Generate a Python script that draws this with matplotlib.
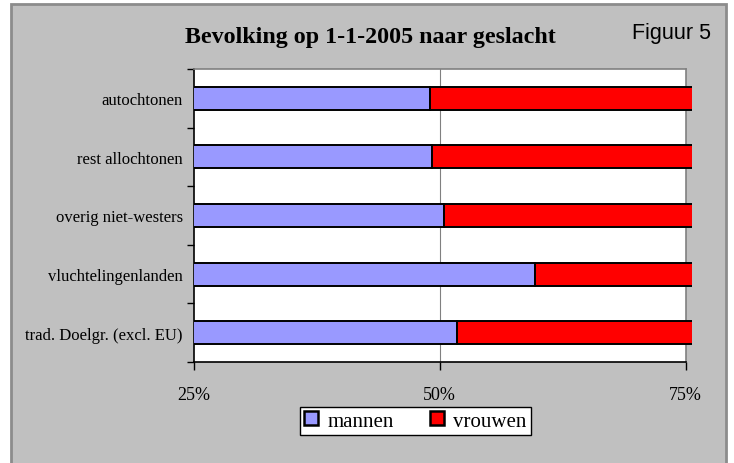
import matplotlib
matplotlib.use("Agg")
import matplotlib.pyplot as plt
from matplotlib.patches import Rectangle, Patch

categories = ["autochtonen", "rest allochtonen", "overig niet-westers",
              "vluchtelingenlanden", "trad. Doelgr. (excl. EU)"]
mannen = [49.0, 49.2, 50.4, 59.7, 51.8]
vrouwen = [100 - m for m in mannen]
xticks = [25, 50, 75]
xticklabels = ["25%", "50%", "75%"]

W, H = 734, 464
fig = plt.figure(figsize=(W / 100, H / 100), dpi=100)
fig.patch.set_facecolor("white")

# outer chart area
fig.patches.append(Rectangle((11 / W, -0.01), (726 - 11) / W, (H - 5) / H + 0.01,
                             transform=fig.transFigure, facecolor="#C0C0C0",
                             edgecolor="#8C8C8C", linewidth=2, zorder=-5))

ax = fig.add_axes([194 / W, 1 - 363 / H, (685.5 - 194) / W, (363 - 70) / H])
ax.set_zorder(2)
ax.set_facecolor("white")

serif = "Liberation Serif"
n = len(categories)
ys = list(range(n))
bh = 0.39
ax.barh(ys, mannen, height=bh, left=0, color="#9999FF", edgecolor="black",
        linewidth=1.4, zorder=3)
bars_v = ax.barh(ys, vrouwen, height=bh, left=mannen, color="#FF0000",
                 edgecolor="black", linewidth=1.4, zorder=3)
clip = Rectangle((0, 0), 1 + 6.2 / 491.5, 1, transform=ax.transAxes,
                 facecolor="none", edgecolor="none")
for b in bars_v:
    b.set_clip_path(clip)

ax.set_xlim(25, 75)
ax.set_ylim(n - 0.5, -0.5)
ax.axvline(50, color="#808080", linewidth=0.8, zorder=1)

ax.set_xticks(xticks)
ax.set_xticklabels(xticklabels, fontfamily=serif, fontsize=13)
ax.tick_params(axis="x", direction="out", length=6, width=1, pad=11, colors="black")
ax.set_yticks([y - 0.5 for y in ys] + [n - 0.5])
ax.set_yticklabels([])
ax.tick_params(axis="y", direction="out", length=5, width=1)
ax.set_yticks(ys, minor=True)
ax.set_yticklabels(categories, minor=True, fontfamily=serif, fontsize=12)
ax.tick_params(axis="y", which="minor", length=0, pad=8)

for s in ["top", "right"]:
    ax.spines[s].set_color("#808080")
    ax.spines[s].set_linewidth(1.2)
ax.spines["left"].set_color("black")
ax.spines["bottom"].set_color("black")
ax.spines["left"].set_linewidth(1.2)
ax.spines["bottom"].set_linewidth(1.2)

fig.text(370 / W, 1 - 38 / H, "Bevolking op 1-1-2005 naar geslacht",
         fontfamily=serif, fontweight="bold", fontsize=17.3, ha="center", va="center")
fig.text(672 / W, 1 - 34 / H, "Figuur 5", fontfamily="Liberation Sans",
         fontsize=15.5, ha="center", va="center")

handles = [Patch(facecolor="#9999FF", edgecolor="black", linewidth=1.8),
           Patch(facecolor="#FF0000", edgecolor="black", linewidth=1.8)]
leg = fig.legend(handles, ["mannen", "vrouwen"], loc="center",
                 bbox_to_anchor=(415.5 / W, 1 - 422 / H), ncol=2,
                 prop={"family": serif, "size": 15}, frameon=True, fancybox=False,
                 edgecolor="black", handlelength=0.65, handleheight=0.65,
                 handletextpad=0.45, columnspacing=1.75, borderpad=0.2,
                 borderaxespad=0, framealpha=1)
leg.get_frame().set_linewidth(1.0)
leg.get_frame().set_facecolor("white")

fig.savefig("out.png", dpi=100)
